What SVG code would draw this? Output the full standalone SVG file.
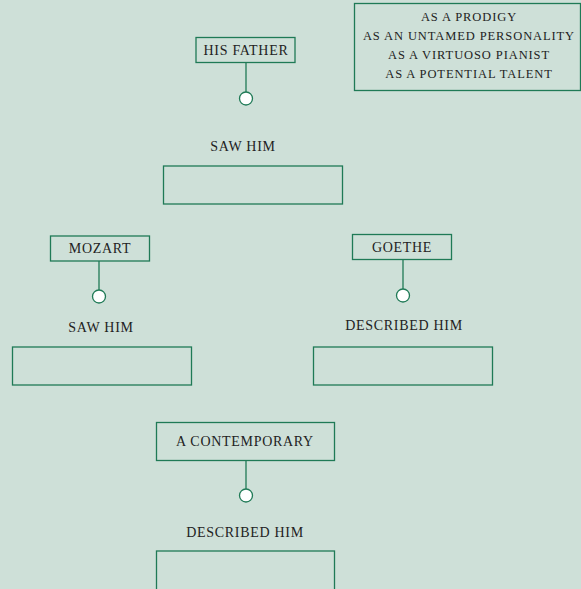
<svg xmlns="http://www.w3.org/2000/svg" width="581" height="589" viewBox="0 0 581 589">
<style>
.box{fill:none;stroke:#1f7a56;stroke-width:1.3}
.ln{stroke:#1f7a56;stroke-width:1.3;fill:none}
.dot{fill:#fff;stroke:#1f7a56;stroke-width:1.3}
.t{font-family:"Liberation Serif","DejaVu Serif",serif;font-size:14px;letter-spacing:0.7px;fill:#222;text-anchor:middle}
.s{font-family:"Liberation Serif","DejaVu Serif",serif;font-size:12.5px;letter-spacing:0.9px;fill:#222;text-anchor:middle}
</style>
<rect width="581" height="589" fill="#cee0d8"/>
<g id="connectors">
<line class="ln" x1="246" y1="62" x2="246" y2="92"/>
<line class="ln" x1="99" y1="261" x2="99" y2="290"/>
<line class="ln" x1="403" y1="259" x2="403" y2="289"/>
<line class="ln" x1="246" y1="460" x2="246" y2="489"/>
</g>
<g id="legend">
<rect class="box" x="354.5" y="3.5" width="226" height="87"/>
<text class="s" x="469" y="21">AS A PRODIGY</text>
<text class="s" x="469" y="40">AS AN UNTAMED PERSONALITY</text>
<text class="s" x="469" y="59">AS A VIRTUOSO PIANIST</text>
<text class="s" x="469" y="78">AS A POTENTIAL TALENT</text>
</g>
<g id="his-father">
<rect class="box" x="196" y="37.5" width="99" height="25"/>
<text class="t" x="246" y="55">HIS FATHER</text>
<circle class="dot" cx="246" cy="98.5" r="6.5"/>
<text class="t" x="243" y="151">SAW HIM</text>
<rect class="box" x="163.5" y="166" width="179" height="38"/>
</g>
<g id="mozart">
<rect class="box" x="50.5" y="236" width="99" height="25"/>
<text class="t" x="100" y="253">MOZART</text>
<circle class="dot" cx="99" cy="296.5" r="6.5"/>
<text class="t" x="101" y="332">SAW HIM</text>
<rect class="box" x="12.5" y="347" width="179" height="38"/>
</g>
<g id="goethe">
<rect class="box" x="352.5" y="234.5" width="99" height="25"/>
<text class="t" x="402" y="252">GOETHE</text>
<circle class="dot" cx="403" cy="295.5" r="6.5"/>
<text class="t" x="404" y="330">DESCRIBED HIM</text>
<rect class="box" x="313.5" y="347" width="179" height="38"/>
</g>
<g id="contemporary">
<rect class="box" x="156.5" y="422.5" width="178" height="38"/>
<text class="t" x="245" y="446">A CONTEMPORARY</text>
<circle class="dot" cx="246" cy="495.5" r="6.5"/>
<text class="t" x="245" y="537">DESCRIBED HIM</text>
<rect class="box" x="156.5" y="551" width="178" height="40"/>
</g>
</svg>
